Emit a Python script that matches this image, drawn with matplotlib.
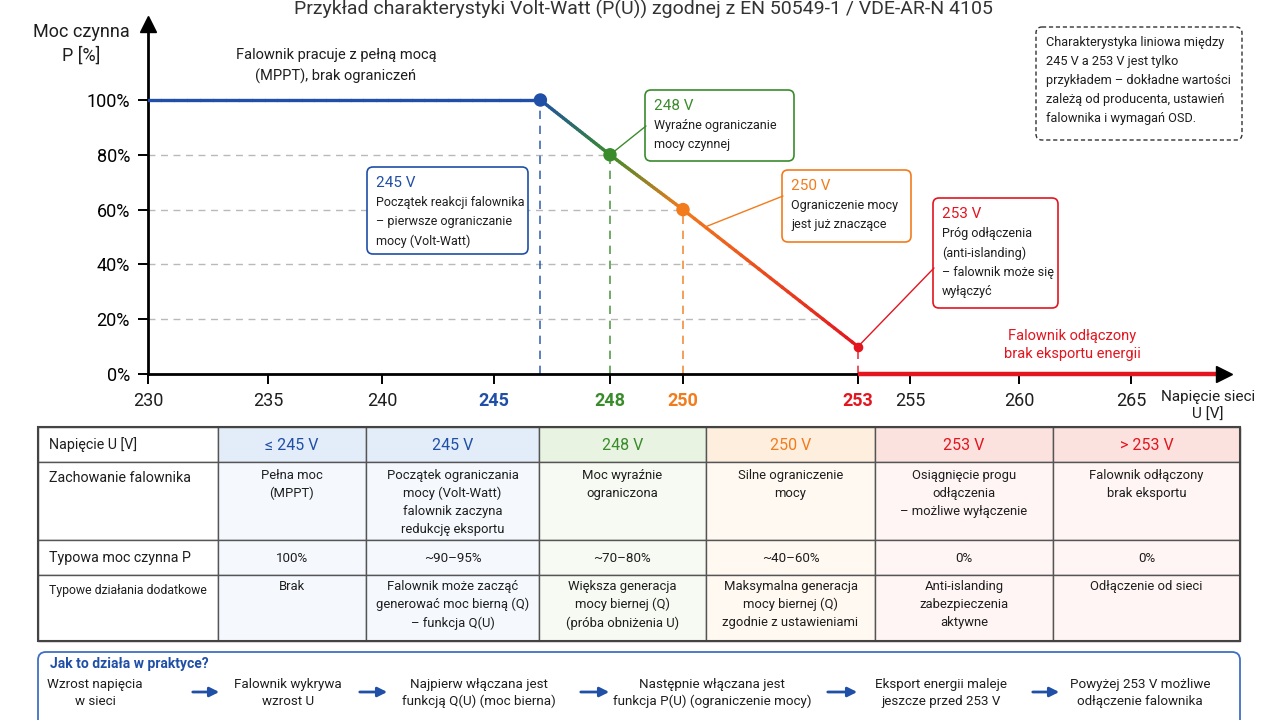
import numpy as np
import matplotlib.pyplot as plt
from matplotlib.patches import FancyBboxPatch, Rectangle, ConnectionPatch, FancyArrowPatch
from matplotlib.collections import LineCollection
from matplotlib.colors import to_rgb

plt.rcParams['font.family'] = ['Roboto', 'DejaVu Sans']

BLUE = '#1f4fa6'
GREEN = '#3a8b2c'
ORANGE = '#f27b1c'
RED = '#e3151f'
DARK = '#1e1e1e'

# ---- chart data ----
voltage = [230, 246.2, 248, 250, 253]
power = [100, 100, 80, 60, 10]
point_colors = [BLUE, BLUE, GREEN, ORANGE, RED]
off_voltage = [253, 269.0]
off_power = [0, 0]
grid_levels = [20, 40, 60, 80]
y_ticks = [0, 20, 40, 60, 80, 100]
x_ticks = [230, 235, 240, 245, 248, 250, 253, 255, 260, 265]
x_tick_colors = [DARK, DARK, DARK, BLUE, GREEN, ORANGE, RED, DARK, DARK, DARK]

title = 'Przykład charakterystyki Volt-Watt (P(U)) zgodnej z EN 50549-1 / VDE-AR-N 4105'

callout_titles = ['245 V', '248 V', '250 V', '253 V']
callout_texts = ['Początek reakcji falownika\n– pierwsze ograniczanie\nmocy (Volt-Watt)',
                 'Wyraźne ograniczanie\nmocy czynnej',
                 'Ograniczenie mocy\njest już znaczące',
                 'Próg odłączenia\n(anti-islanding)\n– falownik może się\nwyłączyć']
callout_colors = [BLUE, GREEN, ORANGE, RED]
note_text = ('Charakterystyka liniowa między\n245 V a 253 V jest tylko\n'
             'przykładem – dokładne wartości\nzależą od producenta, ustawień\n'
             'falownika i wymagań OSD.')

# ---- table data ----
table_header = ['≤ 245 V', '245 V', '248 V', '250 V', '253 V', '> 253 V']
header_colors = [BLUE, BLUE, GREEN, ORANGE, RED, RED]
row_labels = ['Napięcie U [V]', 'Zachowanie falownika', 'Typowa moc czynna P', 'Typowe działania dodatkowe']
behaviour = ['Pełna moc\n(MPPT)',
             'Początek ograniczania\nmocy (Volt-Watt)\nfalownik zaczyna\nredukcję eksportu',
             'Moc wyraźnie\nograniczona',
             'Silne ograniczenie\nmocy',
             'Osiągnięcie progu\nodłączenia\n– możliwe wyłączenie',
             'Falownik odłączony\nbrak eksportu']
typical_power = ['100%', '~90–95%', '~70–80%', '~40–60%', '0%', '0%']
extra_actions = ['Brak',
                 'Falownik może zacząć\ngenerować moc bierną (Q)\n– funkcja Q(U)',
                 'Większa generacja\nmocy biernej (Q)\n(próba obniżenia U)',
                 'Maksymalna generacja\nmocy biernej (Q)\nzgodnie z ustawieniami',
                 'Anti-islanding\nzabezpieczenia\naktywne',
                 'Odłączenie od sieci']

flow_title = 'Jak to działa w praktyce?'
flow_steps = ['Wzrost napięcia\nw sieci', 'Falownik wykrywa\nwzrost U',
              'Najpierw włączana jest\nfunkcją Q(U) (moc bierna)',
              'Następnie włączana jest\nfunkcja P(U) (ograniczenie mocy)',
              'Eksport energii maleje\njeszcze przed 253 V',
              'Powyżej 253 V możliwe\nodłączenie falownika']

# ---- layout (pixels) ----
AXIS_V = [230, 235, 240, 245, 248, 250, 253, 255, 260, 265, 270]
AXIS_PX = [148, 268, 382, 494, 610, 683, 858, 910, 1019, 1131, 1243]
COL_EDGES = [38, 218, 366, 539, 706, 875, 1053, 1240]
ROW_EDGES = [427, 462, 540, 575, 641]
HEAD_FILL = {BLUE: '#e3edf9', GREEN: '#e9f3e1', ORANGE: '#fdeedd', RED: '#fbe2df'}
BODY_FILL = {BLUE: '#f5f9fd', GREEN: '#f6faf2', ORANGE: '#fff9f2', RED: '#fef5f4'}


def v_to_px(v):
    return np.interp(v, AXIS_V, AXIS_PX)


def px_to_v(p):
    return np.interp(p, AXIS_PX, AXIS_V)


fig = plt.figure(figsize=(12.8, 7.2), dpi=100)
ax = fig.add_axes([148 / 1280, 1 - 374 / 720, (1224 - 148) / 1280, (374 - 24) / 720])
ax.set_xscale('function', functions=(v_to_px, px_to_v))
ax.set_xlim(230, px_to_v(1224))
ax.set_ylim(0, (374 - 24) / 2.74)


def gradient_line(x0, y0, x1, y1, c0, c1, n=30):
    t = np.linspace(0, 1, n + 1)
    xs = x0 + (x1 - x0) * t
    ys = y0 + (y1 - y0) * t
    segs = np.stack([np.column_stack([xs[:-1], ys[:-1]]),
                     np.column_stack([xs[1:], ys[1:]])], axis=1)
    mid = (t[:-1] + t[1:]) / 2
    cols = [(1 - s) * np.array(to_rgb(c0)) + s * np.array(to_rgb(c1)) for s in mid]
    ax.add_collection(LineCollection(segs, colors=cols, linewidths=2.4,
                                     capstyle='round', zorder=3))


for i in range(len(voltage) - 1):
    gradient_line(voltage[i], power[i], voltage[i + 1], power[i + 1],
                  point_colors[i], point_colors[i + 1])

# grid lines stop at the curve
grid_ends = np.interp(grid_levels, power[::-1], voltage[::-1])
ax.hlines(grid_levels, 230, grid_ends, colors='#b9b9b9', linestyles=(0, (5, 4)), lw=1, zorder=1)
ax.vlines(voltage[1:], 0, power[1:], colors=point_colors[1:], linestyles=(0, (5, 4)),
          lw=1.2, alpha=0.85, zorder=2)
ax.scatter(voltage[1:4], power[1:4], s=75, c=point_colors[1:4], zorder=4)
ax.scatter(voltage[4:], power[4:], s=35, c=point_colors[4:], zorder=4)
ax.plot(off_voltage, off_power, color=RED, lw=3.2, solid_capstyle='butt', clip_on=False, zorder=5)

for s in ['top', 'right']:
    ax.spines[s].set_visible(False)
for s in ['left', 'bottom']:
    ax.spines[s].set_linewidth(2)
ax.plot([1], [0], marker='>', ms=11, color='k', transform=ax.transAxes, clip_on=False, zorder=6)
ax.plot([0], [1], marker='^', ms=11, color='k', transform=ax.transAxes, clip_on=False, zorder=6)

ax.set_yticks(y_ticks)
ax.set_yticklabels([f'{v}%' for v in y_ticks])
ax.set_xticks(x_ticks)
ax.set_xticklabels([str(v) for v in x_ticks])
ax.tick_params(axis='both', direction='out', length=7, width=1.4, labelsize=13, colors='k')
ax.tick_params(axis='x', pad=6)
ax.tick_params(axis='y', pad=6)
for lab, c in zip(ax.get_xticklabels(), x_tick_colors):
    lab.set_color(c)
    if c != DARK:
        lab.set_fontweight('bold')

# ---- overlay in pixel coordinates ----
ov = fig.add_axes([0, 0, 1, 1])
ov.set_xlim(0, 1280)
ov.set_ylim(720, 0)
ov.axis('off')


def rbox(x0, y0, x1, y1, ec, lw=1.2, ls='-', fc='white', r=6, z=3):
    ov.add_patch(FancyBboxPatch((x0, y0), x1 - x0, y1 - y0,
                                boxstyle=f'round,pad=0,rounding_size={r}',
                                ec=ec, fc=fc, lw=lw, ls=ls, zorder=z))


ov.text(643, 15, title, ha='center', va='baseline', fontsize=14, color='#333333')
ov.text(81, 44, 'Moc czynna\nP [%]', ha='center', va='center', fontsize=13,
        color=DARK, linespacing=1.4)
ov.text(1208, 406, 'Napięcie sieci\nU [V]', ha='center', va='center', fontsize=11,
        color=DARK, linespacing=1.35)
ov.text(336, 66, 'Falownik pracuje z pełną mocą\n(MPPT), brak ograniczeń', ha='center',
        va='center', fontsize=10.5, color=DARK, linespacing=1.6)
ov.text(1072, 345, 'Falownik odłączony\nbrak eksportu energii', ha='center', va='center',
        fontsize=10.5, color=RED, linespacing=1.45)

# callout boxes
CALLOUT_BOXES = [(367, 167, 528, 254), (645, 90, 794, 161), (782, 170, 911, 242), (933, 198, 1058, 308)]
for (x0, y0, x1, y1), t1, t2, c in zip(CALLOUT_BOXES, callout_titles, callout_texts, callout_colors):
    rbox(x0, y0, x1, y1, c)
    ov.text(x0 + 9, y0 + 16, t1, color=c, fontsize=11, va='center', zorder=4)
    ov.text(x0 + 9, y0 + 29, t2, color=DARK, fontsize=9, va='top', linespacing=1.62, zorder=4)

orange_v = 250.38
links = [((voltage[2], power[2]), (646, 126), GREEN),
         ((orange_v, np.interp(orange_v, voltage, power)), (783, 196), ORANGE),
         ((voltage[4], power[4]), (934, 268), RED)]
for xy, px, c in links:
    fig.add_artist(ConnectionPatch(xyA=xy, coordsA=ax.transData, xyB=px, coordsB=ov.transData,
                                   color=c, lw=1, zorder=2))

rbox(1036, 27, 1242, 140, '#333333', lw=1, ls=(0, (3, 2)))
ov.text(1046, 36, note_text, fontsize=9.2, color=DARK, va='top', linespacing=1.6, zorder=4)

# ---- table ----
for j in range(7):
    x0, x1 = COL_EDGES[j], COL_EDGES[j + 1]
    for i in range(4):
        y0, y1 = ROW_EDGES[i], ROW_EDGES[i + 1]
        if j == 0:
            fc = 'white'
        else:
            fc = (HEAD_FILL if i == 0 else BODY_FILL)[header_colors[j - 1]]
        ov.add_patch(Rectangle((x0, y0), x1 - x0, y1 - y0, fc=fc, ec='#555555', lw=1))
ov.add_patch(Rectangle((COL_EDGES[0], ROW_EDGES[0]), COL_EDGES[-1] - COL_EDGES[0],
                       ROW_EDGES[-1] - ROW_EDGES[0], fc='none', ec='#444444', lw=1.5))

label_y = [(445, 'center'), (471, 'top'), (558, 'center'), (584, 'top')]
for (y, va), lab in zip(label_y, row_labels):
    ov.text(49, y, lab, fontsize=8.8 if lab.startswith('Typowe') else 10.3,
            va=va, color=DARK)
for j in range(6):
    xc = (COL_EDGES[j + 1] + COL_EDGES[j + 2]) / 2
    ov.text(xc, 445, table_header[j], ha='center', va='center', fontsize=11.5,
            color=header_colors[j])
    ov.text(xc, 469, behaviour[j], ha='center', va='top', fontsize=9.4, color=DARK,
            linespacing=1.48)
    ov.text(xc, 558, typical_power[j], ha='center', va='center', fontsize=9.6, color=DARK)
    ov.text(xc, 580, extra_actions[j], ha='center', va='top', fontsize=9.4, color=DARK,
            linespacing=1.48)

# ---- flow box ----
rbox(38, 652, 1240, 728, '#3f6fc4', lw=1.3, r=8)
ov.text(50, 664, flow_title, color=BLUE, fontsize=10, fontweight='bold', va='center')
STEP_X = [95, 288, 479, 712, 941, 1140]
ARROWS = [(190, 222), (357, 390), (578, 612), (825, 860), (1030, 1062)]
for x, s in zip(STEP_X, flow_steps):
    ov.text(x, 693, s, ha='center', va='center', fontsize=9.6, color=DARK, linespacing=1.42)
for a, b in ARROWS:
    ov.add_patch(FancyArrowPatch((a, 692), (b, 692), arrowstyle='-|>', mutation_scale=14,
                                 color=BLUE, lw=2, zorder=4))

fig.savefig('out.png', dpi=100)
